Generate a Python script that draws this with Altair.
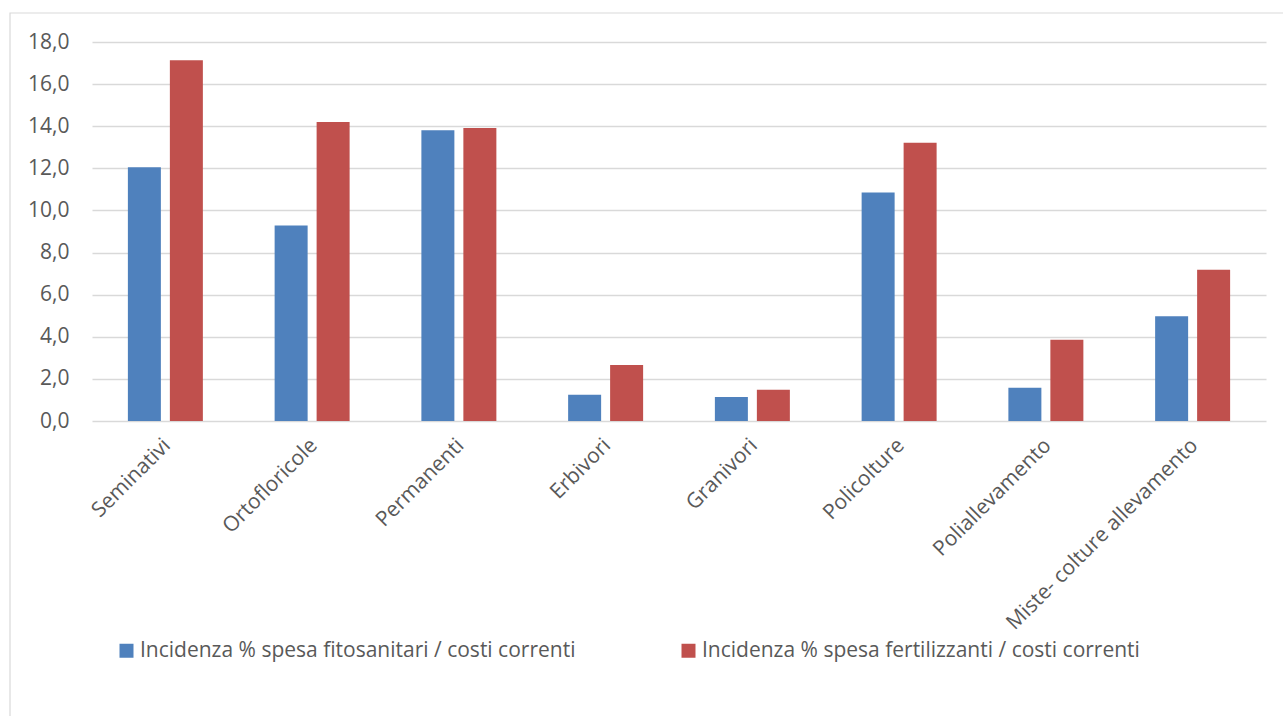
import altair as alt
import pandas as pd

categorie = ["Seminativi", "Ortofloricole", "Permanenti", "Erbivori", "Granivori",
             "Policolture", "Poliallevamento", "Miste- colture allevamento"]
serie = ["Incidenza % spesa fitosanitari / costi correnti",
         "Incidenza % spesa fertilizzanti / costi correnti"]
fitosanitari = [12.05, 9.28, 13.81, 1.25, 1.14, 10.85, 1.58, 4.98]
fertilizzanti = [17.13, 14.20, 13.92, 2.66, 1.49, 13.22, 3.86, 7.18]
colori = ["#4F81BD", "#C0504D"]
valori_asse_y = [0, 2, 4, 6, 8, 10, 12, 14, 16, 18]

righe = []
for i, c in enumerate(categorie):
    righe.append({"categoria": c, "serie": serie[0], "valore": fitosanitari[i]})
    righe.append({"categoria": c, "serie": serie[1], "valore": fertilizzanti[i]})
df = pd.DataFrame(righe)

FONT = "Open Sans"
GRIGIO_TESTO = "#595959"
GRIGIO_LINEE = "#d9d9d9"

barre = alt.Chart(df).mark_bar().encode(
    x=alt.X("categoria:N", sort=categorie, title=None,
            scale=alt.Scale(paddingInner=0.489, paddingOuter=0.2445),
            axis=alt.Axis(labelAngle=-45, labelAlign="right", labelBaseline="middle",
                          labelPadding=21, labelOffset=2, ticks=False,
                          domain=False, labelFontSize=21, labelLimit=500)),
    xOffset=alt.XOffset("serie:N", sort=serie, scale=alt.Scale(paddingInner=0.214)),
    y=alt.Y("valore:Q", title=None,
            scale=alt.Scale(domain=[0, 18], nice=False),
            axis=alt.Axis(values=valori_asse_y, ticks=False, domain=False,
                          labelPadding=23, labelFontSize=21,
                          labelExpr="replace(format(datum.value, '.1f'), '.', ',')")),
    color=alt.Color("serie:N", sort=serie,
                    scale=alt.Scale(domain=serie, range=colori),
                    legend=alt.Legend(title=None, orient="none", direction="horizontal",
                                      legendX=24, legendY=598, symbolType="square",
                                      symbolSize=196, symbolStrokeWidth=0,
                                      labelFontSize=21, labelOffset=3,
                                      columnPadding=102, labelLimit=600)),
)

cornice = alt.Chart(pd.DataFrame({"k": [0]})).mark_rect(
    fill=None, stroke=GRIGIO_LINEE, strokeWidth=1.2
).encode(
    x=alt.value(-82), x2=alt.value(1300), y=alt.value(-29), y2=alt.value(720)
)

chart = alt.layer(cornice, barre).properties(
    width=1174, height=379,
    autosize=alt.AutoSizeParams(type="none"),
    padding={"left": 92, "top": 42, "right": 17, "bottom": 295},
    background="white",
).configure_view(
    stroke=None
).configure_axis(
    labelFont=FONT, labelColor=GRIGIO_TESTO,
    gridColor=GRIGIO_LINEE, gridWidth=1.3
).configure_axisX(
    grid=False
).configure_legend(
    labelFont=FONT, labelColor=GRIGIO_TESTO
)

chart.save("out.html", embed_options={"renderer": "svg", "actions": False})
